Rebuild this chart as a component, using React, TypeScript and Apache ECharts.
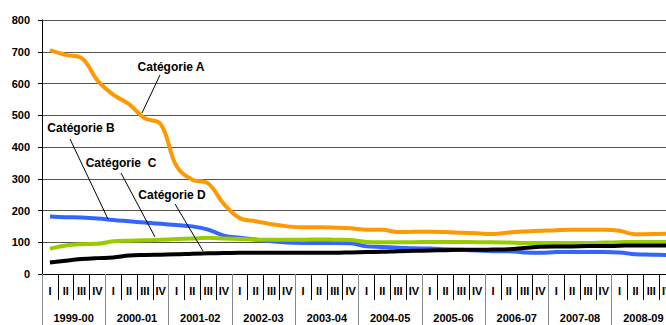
import React, { useEffect, useRef } from "react";
import * as echarts from "echarts";

const years = ["1999-00", "2000-01", "2001-02", "2002-03", "2003-04", "2004-05", "2005-06", "2006-07", "2007-08", "2008-09"];
const quarters = ["I", "II", "III", "IV"];

const categorieA = [705, 690, 680, 610, 565, 535, 490, 472, 340, 297, 285, 220, 176, 166, 157, 150, 147, 147, 146, 144, 139, 139, 132, 133, 133, 132, 130, 128, 126, 131, 134, 136, 138, 139, 139, 139, 136, 125, 126, 127];
const categorieB = [181, 179, 178, 175, 170, 166, 162, 158, 154, 150, 140, 121, 114, 109, 103, 99, 98, 98, 98, 97, 87, 85, 83, 81, 80, 78, 76, 74, 72, 72, 68, 67, 69, 69, 69, 69, 68, 62, 61, 60];
const categorieC = [80, 90, 94, 95, 103, 105, 106, 108, 110, 112, 114, 112, 110, 108, 108, 108, 108, 109, 108, 107, 101, 100, 100, 100, 101, 101, 101, 100, 100, 99, 98, 98, 98, 98, 98, 99, 100, 101, 101, 101];
const categorieD = [36, 42, 47, 50, 52, 58, 60, 61, 62, 64, 65, 66, 67, 67, 67, 67, 67, 67, 67, 68, 69, 70, 72, 73, 74, 75, 76, 76, 77, 78, 82, 86, 87, 87, 88, 88, 89, 90, 90, 90];

const seriesNames = ["Catégorie A", "Catégorie B", "Catégorie  C", "Catégorie D"];
const seriesColors = ["#FF9900", "#3366FF", "#99CC00", "#000000"];

const FONT = "'Liberation Sans', Arial, sans-serif";

export default function App() {
  const ref = useRef<HTMLDivElement>(null);
  useEffect(() => {
    if (!ref.current) return;
    const chart = echarts.init(ref.current, undefined, { renderer: "svg" });
    const quarterCats = years.flatMap(() => quarters);
    const data = [categorieA, categorieB, categorieC, categorieD];

    const label = (text: string, x: number, y: number) => ({
      type: "text",
      x,
      y,
      style: { text, fill: "#000", font: `bold 12px ${FONT}`, align: "center", verticalAlign: "middle" },
      z: 10,
    });
    const leader = (x1: number, y1: number, x2: number, y2: number) => ({
      type: "line",
      shape: { x1, y1, x2, y2 },
      style: { stroke: "#000", lineWidth: 1 },
      z: 10,
    });

    chart.setOption({
      animation: false,
      backgroundColor: "#fff",
      grid: { left: 42, right: 25, top: 20, bottom: 51 },
      xAxis: [
        {
          type: "category",
          data: quarterCats,
          boundaryGap: true,
          position: "bottom",
          axisLine: { show: true, lineStyle: { color: "#000", width: 1 } },
          axisTick: {
            show: true,
            length: 26,
            interval: (i: number) => i % 4 !== 0,
            lineStyle: { color: "#000", width: 1 },
          },
          axisLabel: { interval: 0, margin: 11, color: "#000", fontWeight: "bold", fontSize: 11, fontFamily: FONT },
          splitLine: { show: false },
        },
        {
          type: "category",
          data: years,
          boundaryGap: true,
          position: "bottom",
          axisLine: { show: false },
          axisTick: { show: true, length: 52, interval: 0, lineStyle: { color: "#888", width: 1 } },
          axisLabel: { interval: 0, margin: 38, color: "#000", fontWeight: "bold", fontSize: 11, fontFamily: FONT },
          splitLine: { show: false },
        },
      ],
      yAxis: {
        type: "value",
        min: 0,
        max: 800,
        interval: 100,
        axisLine: { show: true, lineStyle: { color: "#000", width: 1 } },
        axisTick: { show: true, length: 4, lineStyle: { color: "#000" } },
        axisLabel: { margin: 12, color: "#000", fontWeight: "bold", fontSize: 11, fontFamily: FONT },
        splitLine: { show: true, lineStyle: { color: "#555", width: 1 } },
      },
      series: data.map((d, i) => ({
        name: seriesNames[i],
        type: "line",
        data: d,
        xAxisIndex: 0,
        smooth: 0.4,
        symbol: "none",
        lineStyle: { color: seriesColors[i], width: 4 },
        itemStyle: { color: seriesColors[i] },
      })),
      graphic: [
        label(seriesNames[0], 171, 67),
        leader(160, 75, 142, 113),
        label(seriesNames[1], 81, 128),
        leader(70, 139, 108, 219),
        label(seriesNames[2], 121, 163),
        leader(121, 173, 155, 237),
        label(seriesNames[3], 172, 195),
        leader(175, 204, 203, 251),
      ],
    });
    return () => chart.dispose();
  }, []);

  return (
    <div style={{ position: "absolute", left: 0, top: 0, width: 666, height: 325, overflow: "hidden", background: "#fff" }}>
      <div ref={ref} style={{ width: 700, height: 325 }} />
    </div>
  );
}
